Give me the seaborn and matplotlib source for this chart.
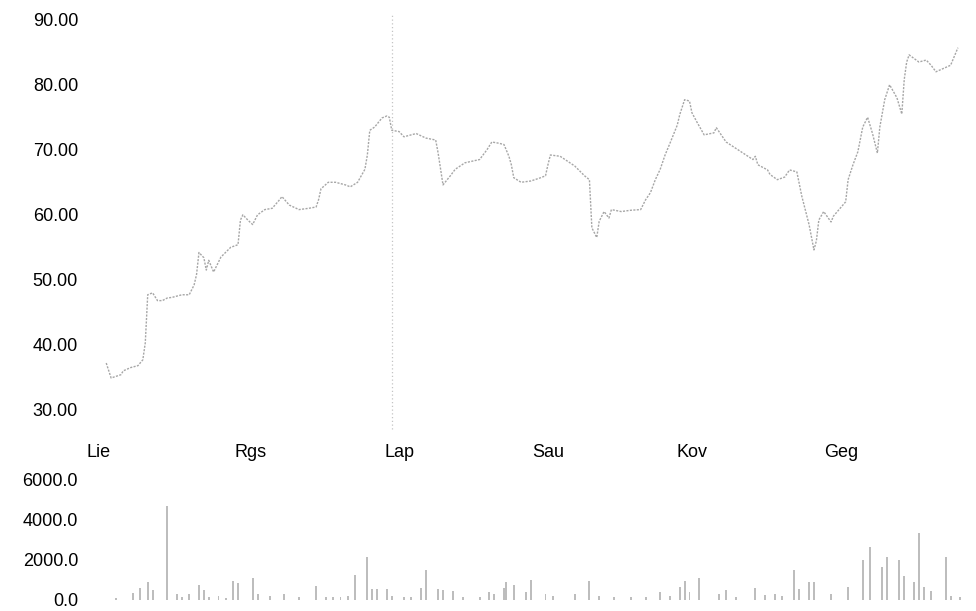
import matplotlib
matplotlib.use("Agg")
import matplotlib.pyplot as plt
import seaborn as sns
import pandas as pd

# days counted from 1 July (Liepa)
month_days = [0, 62, 123, 184, 243, 304]
month_labels = ['Lie', 'Rgs', 'Lap', 'Sau', 'Kov', 'Geg']

price_day = [3, 5, 9, 10, 13, 16, 18, 19, 20, 22, 24, 26, 28, 30, 34, 37, 39, 40, 41, 43,
             44, 45, 47, 50, 54, 57, 58, 59, 61, 63, 65, 68, 71, 74, 75, 78, 82, 86, 89, 90,
             91, 94, 97, 101, 103, 106, 109, 110, 111, 113, 116, 118, 119, 120, 123, 125, 130, 134, 138, 139,
             141, 144, 146, 150, 156, 159, 161, 164, 166, 168, 169, 170, 173, 177, 181, 183, 184, 185, 189, 193,
             195, 199, 201, 202, 204, 205, 207, 209, 210, 214, 218, 222, 224, 226, 228, 230, 232, 234, 237, 238,
             240, 242, 243, 245, 248, 252, 253, 257, 268, 269, 270, 274, 275, 278, 281, 283, 286, 288, 291, 293,
             294, 295, 297, 300, 301, 306, 307, 309, 311, 313, 315, 317, 319, 320, 322, 324, 327, 329, 330, 331,
             332, 336, 339, 341, 343, 349, 352]
price_val = [37.2, 34.9, 35.4, 36.0, 36.5, 36.8, 37.7, 40.3, 47.7, 48.0, 46.8, 46.8, 47.2, 47.3, 47.7, 47.7, 49.2, 50.8, 54.2, 53.4,
             51.5, 53.0, 51.2, 53.5, 55.0, 55.4, 59.2, 60.0, 59.2, 58.5, 60.0, 60.8, 61.0, 62.3, 62.8, 61.5, 60.8, 61.0, 61.2, 62.3,
             64.0, 65.0, 65.0, 64.6, 64.3, 65.0, 67.0, 69.2, 73.0, 73.5, 74.9, 75.2, 75.0, 73.0, 72.8, 72.0, 72.5, 71.8, 71.5, 69.5,
             64.6, 66.0, 67.0, 68.0, 68.5, 70.0, 71.2, 71.0, 70.8, 69.0, 67.7, 65.7, 65.0, 65.2, 65.7, 66.0, 67.7, 69.2, 69.0, 68.0,
             67.5, 66.0, 65.4, 58.0, 56.5, 59.0, 60.5, 59.5, 60.8, 60.5, 60.7, 60.8, 62.3, 63.4, 65.4, 67.0, 69.2, 71.0, 73.8, 75.4,
             77.7, 77.5, 75.7, 74.3, 72.3, 72.6, 73.4, 71.2, 68.5, 69.0, 67.7, 66.9, 66.2, 65.4, 65.8, 66.9, 66.6, 62.9, 58.5, 54.6,
             56.0, 59.2, 60.5, 58.9, 59.8, 62.0, 65.4, 67.7, 69.7, 73.5, 75.0, 72.5, 69.5, 73.5, 77.7, 80.0, 78.0, 75.5, 80.8, 83.5,
             84.6, 83.5, 83.8, 83.0, 82.0, 83.0, 85.7]

# one day with a broken high/low print
spike_day = [120]
spike_low = [27.0]
spike_high = [90.8]

vol_day = [7, 14, 17, 20, 22, 28, 32, 34, 37, 41, 43, 45, 49, 52, 55, 57, 63, 65, 70, 76,
           82, 89, 93, 96, 99, 102, 105, 110, 112, 114, 118, 120, 125, 128, 132, 134, 139, 141, 145, 149,
           156, 160, 162, 166, 167, 170, 175, 177, 183, 186, 195, 201, 205, 211, 218, 224, 230, 234, 238, 240,
           242, 246, 254, 257, 261, 269, 273, 277, 280, 285, 287, 291, 293, 300, 307, 313, 316, 321, 323, 328,
           330, 334, 336, 338, 341, 347, 349, 353]
vol_val = [100, 350, 600, 900, 500, 4700, 300, 150, 300, 750, 500, 150, 200, 100, 950, 850, 1100, 300, 200, 300,
           150, 700, 150, 150, 150, 200, 1250, 2150, 550, 550, 550, 200, 150, 150, 600, 1500, 550, 500, 450, 150,
           150, 400, 300, 600, 900, 750, 400, 1000, 300, 200, 300, 950, 200, 150, 150, 150, 400, 200, 650, 950,
           400, 1100, 300, 500, 150, 600, 250, 300, 200, 1500, 550, 900, 900, 300, 650, 2000, 2650, 1650, 2150, 2000,
           1200, 900, 3350, 650, 450, 2150, 200, 150]

price_ticks = [30, 40, 50, 60, 70, 80, 90]
vol_ticks = [0, 2000, 4000, 6000]

price = pd.DataFrame({'day': price_day, 'close': price_val})
volume = pd.DataFrame({'day': vol_day, 'volume': vol_val})

sns.set_theme(style='white')
plt.rcParams['font.family'] = ['Liberation Sans', 'DejaVu Sans']

W, H = 976, 611
fig = plt.figure(figsize=(W / 100, H / 100), dpi=100)

x0, x1 = 85, 965
xlim = (-5.7, 354.9)

# price panel - faint dithered-looking line like the old screen capture
ax = fig.add_axes([x0 / W, (H - 430) / H, (x1 - x0) / W, 420 / H])
sns.lineplot(data=price, x='day', y='close', ax=ax, color='#a6a6a6', lw=1.0,
             linestyle=(0, (1.5, 1)), estimator=None, sort=False)
ax.vlines(spike_day, spike_low, spike_high, color='#c4c4c4', lw=0.9,
          linestyle=(0, (1, 2)))
ax.set_xlim(*xlim)
ax.set_ylim(26.9, 91.5)
ax.set_yticks(price_ticks)
ax.set_yticklabels(['%.2f' % t for t in price_ticks])
ax.set_xticks(month_days)
ax.set_xticklabels(month_labels)
ax.tick_params(length=0, labelsize=13, colors='black')
ax.tick_params(axis='y', pad=5)
ax.tick_params(axis='x', pad=10)
ax.set_xlabel('')
ax.set_ylabel('')
sns.despine(ax=ax, left=True, bottom=True)

# volume panel
axv = fig.add_axes([x0 / W, (H - 608) / H, (x1 - x0) / W, 140 / H])
sns.barplot(data=volume, x='day', y='volume', ax=axv, native_scale=True,
            color='#bdbdbd', saturation=1, width=0.8, linewidth=0)
axv.set_xlim(*xlim)
axv.set_ylim(-400, 6600)
axv.set_yticks(vol_ticks)
axv.set_yticklabels(['%.1f' % t for t in vol_ticks])
axv.set_xticks([])
axv.tick_params(length=0, labelsize=13, colors='black')
axv.tick_params(axis='y', pad=5)
axv.set_xlabel('')
axv.set_ylabel('')
sns.despine(ax=axv, left=True, bottom=True)

fig.savefig('out.png', dpi=100)
